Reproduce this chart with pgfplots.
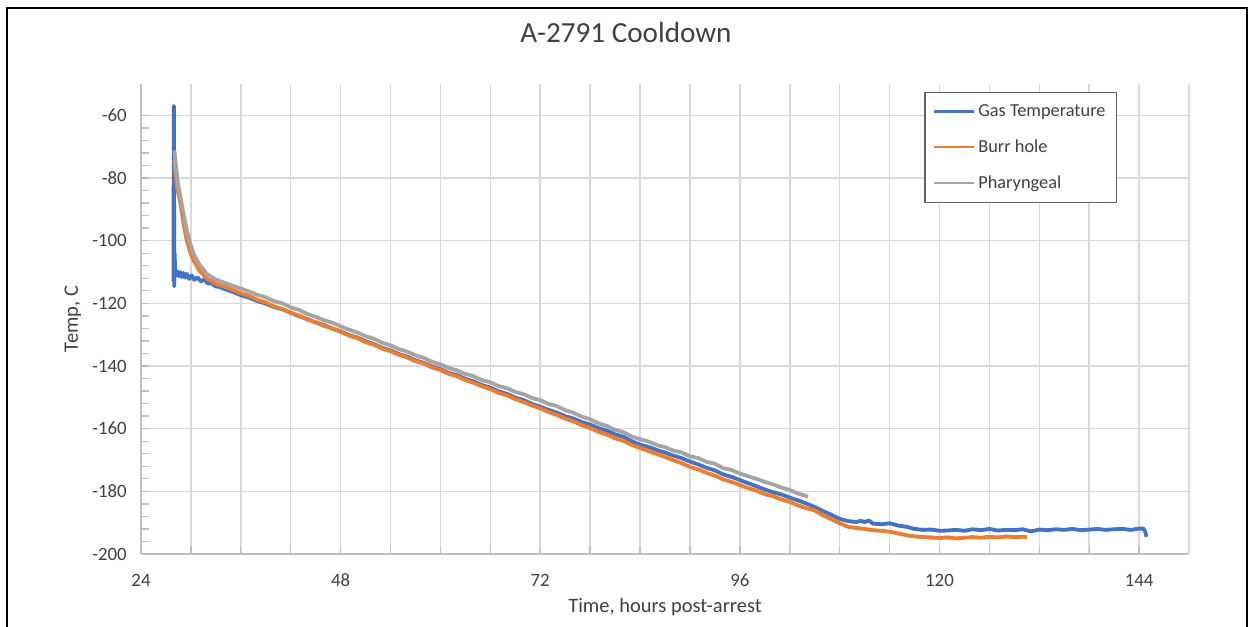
\documentclass[border=0pt]{standalone}
\usepackage{fontspec}
\setmainfont{Carlito}
\usepackage{pgfplots}
\pgfplotsset{compat=1.18}
\definecolor{cblue}{HTML}{4472C4}
\definecolor{corange}{HTML}{ED7D31}
\definecolor{cgray}{HTML}{A5A5A5}
\definecolor{gridc}{HTML}{D9D9D9}
\definecolor{axc}{HTML}{BFBFBF}
\definecolor{txtc}{HTML}{404040}
\definecolor{legc}{HTML}{5A6170}

\pgfplotstableread{
x y
27.90 -113.0
27.95 -57.0
28.00 -114.5
28.05 -104.0
28.10 -110.5
28.3 -109.6
28.5 -111.3
28.7 -110.0
28.9 -111.6
29.1 -110.3
29.3 -111.8
29.5 -110.6
29.8 -112.2
30.1 -111.1
30.4 -112.5
30.8 -111.7
31.2 -113.0
31.6 -112.4
32.0 -113.6
32.5 -113.7
33.0 -114.6
33.5 -114.8
34.0 -115.4
35 -116.3
36 -117.4
37 -118.2
38 -119.3
39 -120.1
40 -121.2
41 -121.9
42 -123.0
43 -124.1
44 -125.0
45 -126.1
46 -126.9
47 -128.1
48 -128.9
49 -130.1
50 -130.9
51 -132.1
52 -133.0
53 -134.2
54 -135.0
55 -136.2
56 -137.0
57 -138.2
58 -139.0
59 -140.2
60 -141.0
61 -142.2
62 -142.9
63 -144.1
64 -144.9
65 -146.1
66 -146.9
67 -148.1
68 -148.9
69 -150.1
70 -150.9
71 -152.1
72 -153.0
73 -154.0
74 -154.9
75 -156.0
76 -156.8
77 -157.9
78 -158.7
79 -159.8
80 -160.6
81 -161.8
82 -162.6
83 -164.0
84 -165.1
85 -165.8
86 -166.8
87 -167.6
88 -168.6
89 -169.4
90 -170.5
91 -171.4
92 -172.5
93 -173.3
94 -174.6
95 -175.4
96 -176.4
97 -177.4
98 -178.4
99 -179.4
100 -180.3
101 -181.0
102 -182.0
103 -182.9
104 -183.9
105 -185.0
106 -186.3
107 -187.5
108 -188.8
109 -189.5
110 -189.8
110.5 -189.4
111 -189.8
111.5 -189.3
112 -190.3
113 -190.5
114 -190.2
115 -190.9
116 -191.3
117 -192.0
118 -192.3
119 -192.2
120 -192.6
121 -192.5
122 -192.3
123 -192.6
124 -192.1
125 -192.4
126 -192.0
127 -192.5
128 -192.3
129 -192.4
130 -192.1
131 -192.8
132 -192.2
133 -192.4
134 -192.1
135 -192.3
136 -192.0
137 -192.4
138 -192.2
139 -192.0
140 -192.3
141 -192.1
142 -192.0
143 -192.3
144 -191.9
144.5 -191.9
144.7 -192.6
144.9 -194.5
}\gastable

\pgfplotstableread{
x y
28.0 -74.3
28.2 -80.0
28.4 -84.0
28.7 -87.5
29.1 -94.4
29.5 -99.9
29.9 -103.5
30.3 -106.2
31.0 -109.5
31.9 -112.1
33 -113.8
34.3 -114.9
36 -116.8
37 -117.6
38 -118.9
39 -119.7
40 -121.0
41 -121.8
42 -123.1
43 -123.9
44 -125.2
45 -126.0
46 -127.2
47 -128.0
48 -129.1
49 -130.3
50 -131.1
51 -132.4
52 -133.2
53 -134.5
54 -135.3
55 -136.4
56 -137.3
57 -138.5
58 -139.2
59 -140.5
60 -141.3
61 -142.5
62 -143.3
63 -144.5
64 -145.4
65 -146.5
66 -147.4
67 -148.6
68 -149.4
69 -150.6
70 -151.5
71 -152.6
72 -153.5
73 -154.7
74 -155.6
75 -156.8
76 -157.7
77 -158.9
78 -159.8
79 -161.0
80 -161.9
81 -163.1
82 -163.9
83 -165.2
84 -166.2
85 -167.1
86 -168.1
87 -169.0
88 -170.1
89 -171.0
90 -172.2
91 -173.0
92 -174.1
93 -175.0
94 -176.2
95 -177.0
96 -178.0
97 -179.0
98 -179.8
99 -180.9
100 -181.6
101 -182.6
102 -183.4
103 -184.5
104 -185.4
105 -186.1
106 -187.7
107 -188.9
108 -190.2
109 -191.3
110 -191.7
111 -192.0
112 -192.4
113 -192.6
114 -192.9
115 -193.4
116 -194.0
117 -194.4
118 -194.6
119 -194.7
120 -194.9
121 -194.7
122 -195.0
123 -194.8
124 -194.6
125 -194.8
126 -194.5
127 -194.7
128 -194.4
129 -194.6
130 -194.5
130.5 -194.6
}\burrtable

\pgfplotstableread{
x y
28.0 -71.2
28.2 -76.0
28.4 -81.0
28.7 -85.5
29.1 -91.2
29.5 -96.5
29.9 -100.8
30.3 -104.0
31.0 -107.5
31.9 -110.6
33 -112.4
34 -113.4
35 -114.4
36 -115.3
37 -116.2
38 -117.3
39 -118.1
40 -119.3
41 -120.0
42 -121.3
43 -122.1
44 -123.4
45 -124.3
46 -125.4
47 -126.2
48 -127.3
49 -128.4
50 -129.3
51 -130.5
52 -131.3
53 -132.6
54 -133.4
55 -134.6
56 -135.4
57 -136.6
58 -137.4
59 -138.7
60 -139.5
61 -140.6
62 -141.4
63 -142.5
64 -143.3
65 -144.5
66 -145.2
67 -146.4
68 -147.1
69 -148.3
70 -149.0
71 -150.2
72 -150.9
73 -152.1
74 -152.8
75 -154.1
76 -154.9
77 -156.2
78 -157.0
79 -158.3
80 -159.1
81 -160.4
82 -161.1
83 -162.5
84 -163.4
85 -164.1
86 -165.2
87 -165.9
88 -167.0
89 -167.6
90 -168.8
91 -169.4
92 -170.6
93 -171.2
94 -172.6
95 -173.2
96 -174.3
97 -175.2
98 -176.0
99 -177.0
100 -177.8
101 -178.8
102 -179.6
103 -180.7
104.2 -181.7
}\pharyntable

\begin{document}
\begin{tikzpicture}[x=1pt,y=1pt]
\useasboundingbox (0,0) rectangle (750,375.6);
\draw[line width=1.2pt, black] (4.2,-3) -- (4.2,370.8) -- (748.3,370.8) -- (748.3,-3);
\begin{axis}[
  at={(84.6pt,43.2pt)}, anchor=south west,
  scale only axis, width=628.8pt, height=282pt,
  xmin=24, xmax=150, ymin=-200, ymax=-50,
  xtick={24,48,...,144}, minor x tick num=3,
  ytick={-200,-180,...,-60}, minor y tick num=4,
  extra x ticks={150}, extra x tick labels={},
  extra x tick style={major tick length=0pt},
  xmajorgrids, xminorgrids, ymajorgrids,
  major grid style={draw=gridc, line width=0.9pt},
  minor grid style={draw=gridc, line width=0.9pt},
  axis x line*=bottom, axis y line*=left,
  axis line style={draw=axc, line width=1pt, -},
  tick style={draw=axc, line width=0.8pt},
  major tick length=5pt, minor tick length=5pt,
  tick align=inside,
  /pgf/number format/assume math mode=true,
  /pgf/number format/1000 sep={},
  ticklabel style={font=\fontsize{11.3}{13}\selectfont, text=txtc},
  xticklabel style={yshift=-8.5pt},
  yticklabel style={xshift=-5pt},
  title={A-2791 Cooldown},
  title style={at={(axis description cs:0.4628,1.0894)}, anchor=center, font=\fontsize{17.5}{20}\selectfont, text=txtc},
  xlabel={Time, hours post-arrest},
  xlabel style={at={(axis description cs:0.5,-0.1128)}, anchor=center, font=\fontsize{12.3}{14}\selectfont, text=txtc},
  ylabel={Temp, C},
  ylabel style={at={(axis description cs:-0.0649,0.5)}, anchor=center, font=\fontsize{12.3}{14}\selectfont, text=txtc},
  legend style={at={(axis description cs:0.9313,0.983)}, anchor=north east,
    draw=legc, line width=0.8pt, fill=white,
    font=\fontsize{11}{13}\selectfont, text=txtc,
    inner xsep=4.5pt, inner ysep=5pt, row sep=8.4pt,
    cells={anchor=west}},
  legend image code/.code={\draw[#1, line width=1.5pt] (0pt,0pt) -- (24pt,0pt);},
  legend cell align=left,
]
\addplot[cblue, line width=2.3pt, line join=round] table[x=x,y=y] {\gastable};
\addlegendentry{Gas Temperature}
\addplot[corange, line width=2.3pt, line join=round] table[x=x,y=y] {\burrtable};
\addlegendentry{Burr hole}
\addplot[cgray, line width=2.3pt, line join=round] table[x=x,y=y] {\pharyntable};
\addlegendentry{Pharyngeal}
\end{axis}
\end{tikzpicture}
\end{document}
